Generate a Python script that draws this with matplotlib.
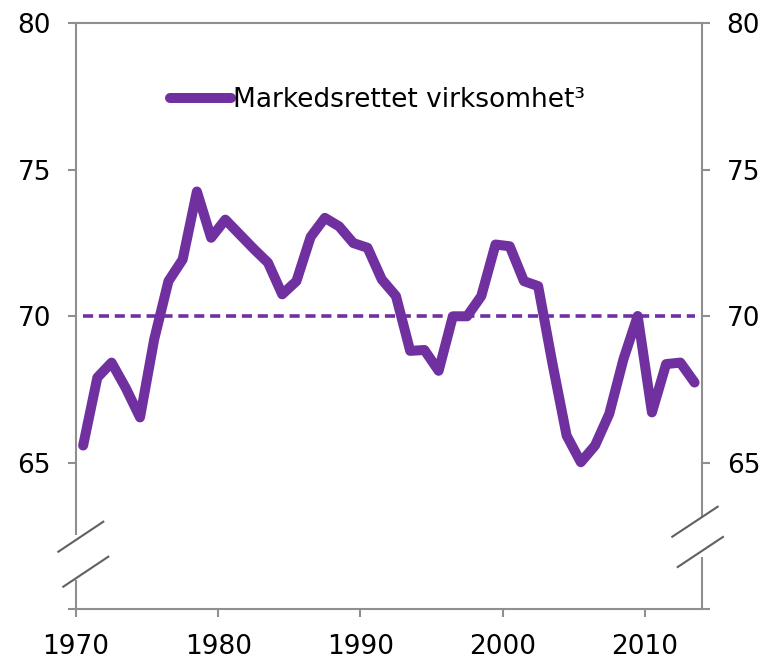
import matplotlib
matplotlib.use('Agg')
import matplotlib.pyplot as plt
import numpy as np

# Data (annual values, plotted mid-year)
years = np.arange(1970, 2014)
values = [65.59, 67.91, 68.42, 67.55, 66.55, 69.22, 71.2, 71.94, 74.26, 72.68,
          73.3, 72.8, 72.3, 71.83, 70.75, 71.2, 72.71, 73.36, 73.07, 72.5,
          72.34, 71.26, 70.69, 68.82, 68.85, 68.14, 70.0, 70.0, 70.69, 72.45,
          72.39, 71.2, 71.03, 68.4, 65.93, 65.02, 65.59, 66.67, 68.54, 70.01,
          66.72, 68.37, 68.42, 67.74]
average = [70.0] * len(years)
series_label = 'Markedsrettet virksomhet³'
x_ticks = [1970, 1980, 1990, 2000, 2010]
y_ticks = [60, 65, 70, 75, 80]
y_ticklabels = ['', '65', '70', '75', '80']

purple = '#7030A0'
grey = '#8f8f8f'

fig = plt.figure(figsize=(7.71, 6.6), dpi=100)
ax = fig.add_axes([0.0986, 0.0768, 0.8115, 0.8879])

xpos = years + 0.5
ax.plot(xpos, values, color=purple, lw=7.2, solid_capstyle='round',
        solid_joinstyle='round', label=series_label)
ax.plot(xpos, average, color=purple, lw=2.6, linestyle=(0, (2.8, 1.6)),
        dash_capstyle='butt')

ax.set_xlim(1970, 2014)
ax.set_ylim(60, 80)
ax.set_xticks(x_ticks)
ax.set_yticks(y_ticks)
ax.set_yticklabels(y_ticklabels)

ax.tick_params(axis='both', colors=grey, width=1.5, length=6, labelsize=19,
               labelcolor='black')
ax.tick_params(axis='y', pad=12, right=True, labelright=True)
ax.tick_params(axis='x', pad=12)

# spines: top and bottom normal, left/right drawn by hand with breaks
for side in ['top', 'bottom']:
    ax.spines[side].set_color(grey)
    ax.spines[side].set_linewidth(1.5)
ax.spines['left'].set_visible(False)
ax.spines['right'].set_visible(False)

kw = dict(transform=ax.transAxes, color=grey, lw=1.5, clip_on=False,
          solid_capstyle='butt')
ax.plot([0, 0], [1, 0.127], **kw)
ax.plot([0, 0], [0.05, 0], **kw)
ax.plot([1, 1], [1, 0.158], **kw)
ax.plot([1, 1], [0.0887, 0], **kw)

bk = dict(transform=ax.transAxes, color='#606060', lw=1.5, clip_on=False)
ax.plot([-0.0283, 0.0436], [0.0983, 0.1495], **bk)
ax.plot([-0.0203, 0.0516], [0.0386, 0.0898], **bk)
ax.plot([0.953, 1.0256], [0.1239, 0.1751], **bk)
ax.plot([0.9617, 1.034], [0.0722, 0.1235], **bk)

ax.legend(loc='center left', bbox_to_anchor=(0.15, 0.869), frameon=False,
          fontsize=19, borderaxespad=0, borderpad=0, handlelength=2.3,
          handletextpad=0.1)

fig.savefig('out.png', dpi=100)
